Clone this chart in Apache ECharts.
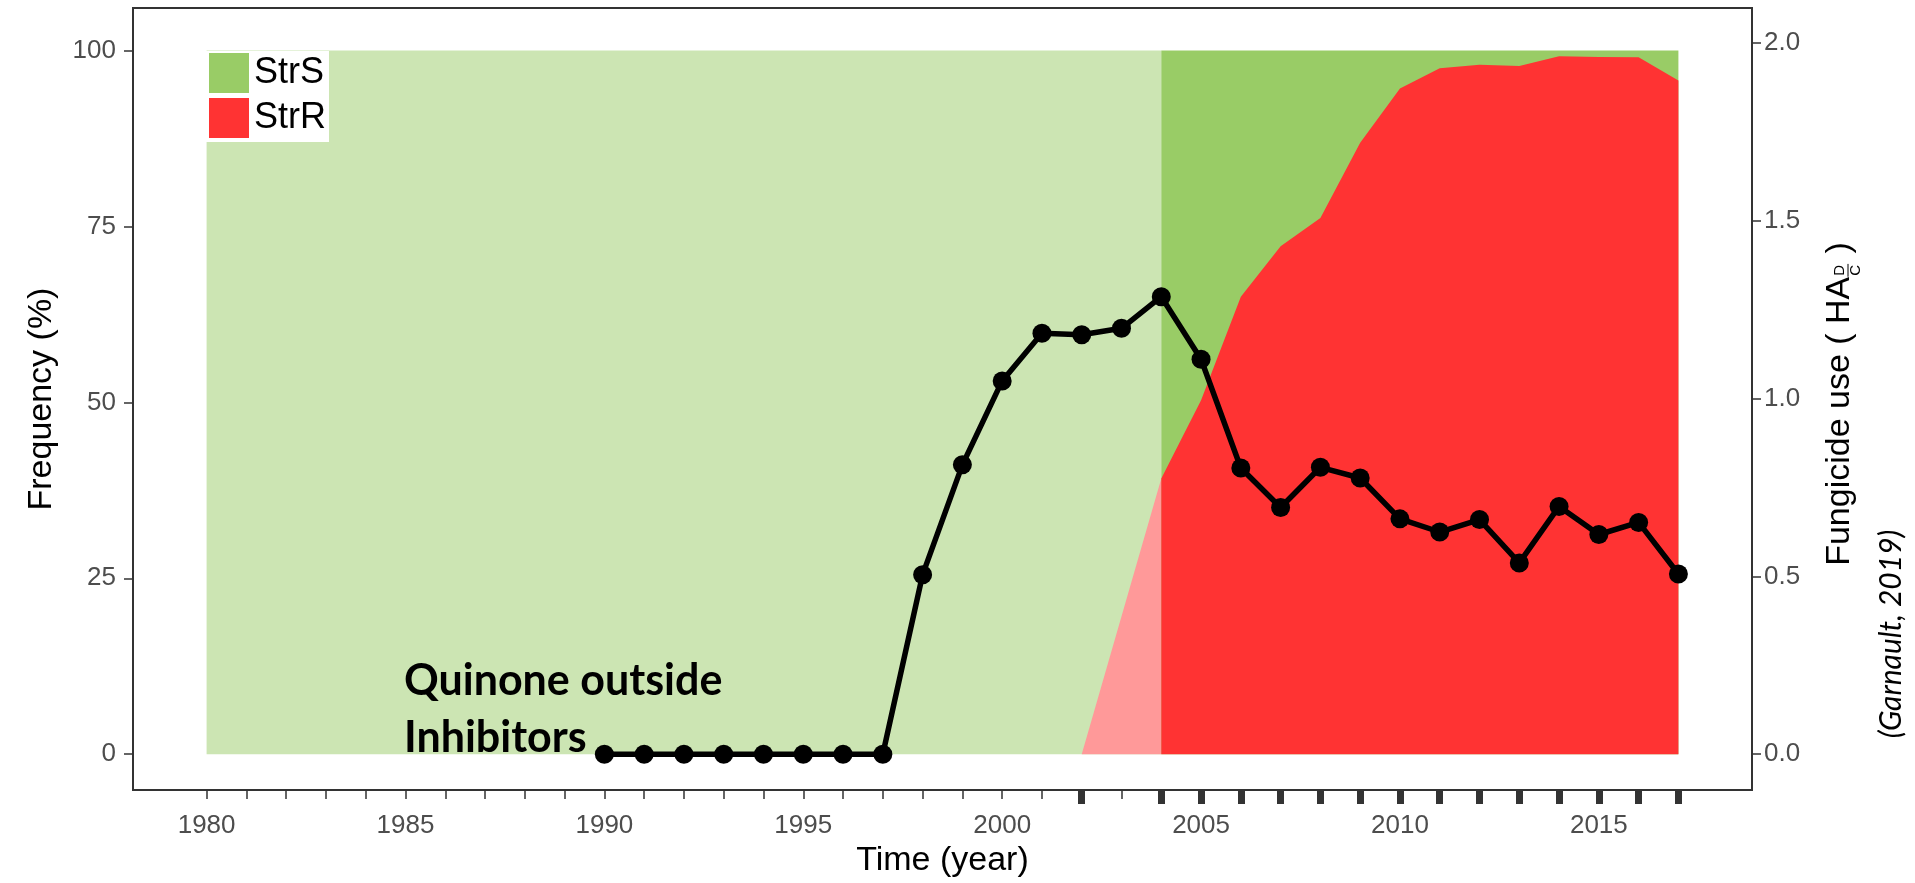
<!DOCTYPE html>
<html>
<head>
<meta charset="utf-8">
<title>QoI resistance frequency and fungicide use</title>
<script src="https://cdn.jsdelivr.net/npm/echarts@6/dist/echarts.min.js"></script>
<style>
  html, body { margin: 0; padding: 0; background: #fff; }
  #chart { width: 1915px; height: 883px; }
</style>
</head>
<body>
<div id="chart"></div>
<script>
// strain frequencies (%) in the sampled years
const strYears = [1980, 2002, 2004, 2005, 2006, 2007, 2008, 2009, 2010, 2011, 2012, 2013, 2014, 2015, 2016, 2017];
const strR = [0, 0, 39.2, 50.3, 65.0, 72.2, 76.2, 86.9, 94.6, 97.5, 98.0, 97.8, 99.2, 99.1, 99.05, 95.75];
const strS = [100, 100, 60.8, 49.7, 35.0, 27.8, 23.8, 13.1, 5.4, 2.5, 2.0, 2.2, 0.8, 0.9, 0.95, 4.25];

// years with monitoring data (thick marks under the axis)
const rugYears = [2002, 2004, 2005, 2006, 2007, 2008, 2009, 2010, 2011, 2012, 2013, 2014, 2015, 2016, 2017];

// fungicide use, HA D/C (right axis)
const useYears = [1990, 1991, 1992, 1993, 1994, 1995, 1996, 1997, 1998, 1999, 2000, 2001, 2002, 2003,
  2004, 2005, 2006, 2007, 2008, 2009, 2010, 2011, 2012, 2013, 2014, 2015, 2016, 2017];
const useValues = [0, 0, 0, 0, 0, 0, 0, 0, 0.505, 0.814, 1.05, 1.184, 1.18, 1.198,
  1.287, 1.111, 0.805, 0.694, 0.807, 0.777, 0.662, 0.625, 0.66, 0.538, 0.697, 0.618, 0.652, 0.507];

// tick labels
const xLabelYears = [1980, 1985, 1990, 1995, 2000, 2005, 2010, 2015];
const freqTicks = [0, 25, 50, 75, 100];
const useTicks = [0, 0.5, 1, 1.5, 2];

// before this year the areas are drawn faded
const fadedUntil = 2004;

const FONT = '"Liberation Sans", Arial, Helvetica, sans-serif';
const X_MIN = 1978.15, X_MAX = 2018.85;

const yearTicks = [];
for (let y = 1980; y <= 2017; y++) yearTicks.push(y);

// StrS sits on top of StrR, so the green area reaches StrR + StrS
const strTop = strR.map((r, i) => r + strS[i]);

function pairs(xs, ys, keep) {
  return xs.map((x, i) => [x, ys[i]]).filter((p) => keep(p[0]));
}
const early = (x) => x <= fadedUntil;
const late = (x) => x >= fadedUntil;

function areaSeries(name, color, data, z) {
  return {
    name: name,
    type: 'line',
    data: data,
    color: color,
    symbol: 'none',
    silent: true,
    lineStyle: { width: 0 },
    areaStyle: { color: color, opacity: 1 },
    z: z,
  };
}

// measure text so the right-hand title pieces line up
const measureCtx = document.createElement('canvas').getContext('2d');
function textWidth(str, size) {
  measureCtx.font = size + 'px ' + FONT;
  return measureCtx.measureText(str).width;
}

const titleSize = 34;
const smallSize = 15;
const partA = 'Fungicide use ( HA';
const partB = ' )';
const wA = textWidth(partA, titleSize);
const wB = textWidth(partB, titleSize);
const wStack = Math.max(textWidth('D', smallSize), textWidth('C', smallSize)) + 3;
const x0 = -(wA + wStack + wB) / 2;

function txt(x, y, text, size) {
  return {
    type: 'text', x: x, y: y,
    style: { text: text, fontSize: size, fontFamily: FONT, fill: '#000', align: 'left', verticalAlign: 'middle' },
  };
}

const chart = echarts.init(document.getElementById('chart'));

chart.setOption({
  animation: false,
  backgroundColor: '#fff',
  grid: {
    left: 133, right: 163, top: 8, bottom: 90,
    show: true, borderColor: '#333', borderWidth: 2, backgroundColor: 'transparent',
  },
  legend: {
    data: ['StrS', 'StrR'],
    orient: 'vertical',
    left: 206, top: 51,
    icon: 'rect',
    itemWidth: 40, itemHeight: 40, itemGap: 5,
    padding: [2, 3, 4, 3],
    backgroundColor: '#fff',
    itemStyle: { borderWidth: 0 },
    textStyle: { fontSize: 36, color: '#000', fontFamily: FONT },
    selectedMode: false,
  },
  xAxis: [
    {
      type: 'value',
      min: X_MIN, max: X_MAX,
      name: 'Time (year)',
      nameLocation: 'middle',
      nameGap: 53,
      nameTextStyle: { fontSize: 34, color: '#000', fontFamily: FONT },
      axisLine: { show: false, onZero: false },
      splitLine: { show: false },
      axisTick: { show: true, customValues: yearTicks, length: 9, lineStyle: { color: '#333', width: 1.5 } },
      axisLabel: {
        customValues: xLabelYears, margin: 23, fontSize: 26, color: '#4D4D4D', fontFamily: FONT,
        formatter: (v) => String(v),
      },
    },
    {
      type: 'value',
      min: X_MIN, max: X_MAX,
      position: 'bottom',
      axisLine: { show: false, onZero: false },
      splitLine: { show: false },
      axisLabel: { show: false },
      axisTick: { show: true, customValues: rugYears, length: 14, lineStyle: { color: '#333', width: 7 } },
    },
  ],
  yAxis: [
    {
      type: 'value',
      min: -5.1, max: 106.05,
      name: 'Frequency (%)',
      nameLocation: 'middle',
      nameRotate: 90,
      nameGap: 74,
      nameTextStyle: { fontSize: 34, color: '#000', fontFamily: FONT },
      axisLine: { show: false, onZero: false },
      splitLine: { show: false },
      axisTick: { show: true, customValues: freqTicks, length: 9, lineStyle: { color: '#333', width: 1.5 } },
      axisLabel: { customValues: freqTicks, margin: 17, fontSize: 26, color: '#4D4D4D', fontFamily: FONT },
    },
    {
      type: 'value',
      position: 'right',
      min: -0.101, max: 2.099,
      axisLine: { show: false, onZero: false },
      splitLine: { show: false },
      axisTick: { show: true, customValues: useTicks, length: 9, lineStyle: { color: '#333', width: 1.5 } },
      axisLabel: {
        customValues: useTicks, margin: 12, fontSize: 26, color: '#4D4D4D', fontFamily: FONT,
        formatter: (v) => v.toFixed(1),
      },
    },
  ],
  series: [
    // faded period: half-tint colours of the same greens and reds
    areaSeries('StrS faded', '#CCE5B3', pairs(strYears, strTop, early), 1),
    areaSeries('StrR faded', '#FF9999', pairs(strYears, strR, early), 2),
    areaSeries('StrS', '#99CC66', pairs(strYears, strTop, late), 1),
    areaSeries('StrR', '#FF3333', pairs(strYears, strR, late), 2),
    {
      name: 'Fungicide use',
      type: 'line',
      yAxisIndex: 1,
      data: useYears.map((y, i) => [y, useValues[i]]),
      color: '#000',
      symbol: 'circle',
      symbolSize: 19,
      lineStyle: { color: '#000', width: 5.5 },
      itemStyle: { color: '#000' },
      z: 5,
    },
  ],
  graphic: [
    {
      type: 'text',
      x: 404, y: 710,
      z: 10,
      style: {
        text: 'Quinone outside\nInhibitors',
        fontSize: 43, fontWeight: 'bold', fontFamily: 'Lato, "Open Sans", sans-serif',
        lineHeight: 57, fill: '#000', align: 'left', verticalAlign: 'middle',
      },
    },
    {
      type: 'group',
      x: 1840, y: 404,
      rotation: Math.PI / 2,
      children: [
        txt(x0, 0, partA, titleSize),
        txt(x0 + wA + 1, 0, 'D', smallSize),
        { type: 'line', shape: { x1: x0 + wA, y1: 8, x2: x0 + wA + wStack - 1, y2: 8 }, style: { stroke: '#000', lineWidth: 1 } },
        txt(x0 + wA + 1, 16, 'C', smallSize),
        txt(x0 + wA + wStack, 0, partB, titleSize),
      ],
    },
    {
      type: 'text',
      x: 1891, y: 634,
      rotation: Math.PI / 2,
      style: {
        text: '(Garnault, 2019)',
        fontSize: 30, fontStyle: 'italic', fontFamily: 'Lato, "Open Sans", sans-serif',
        fill: '#000', align: 'center', verticalAlign: 'middle',
      },
    },
  ],
});
</script>
</body>
</html>
